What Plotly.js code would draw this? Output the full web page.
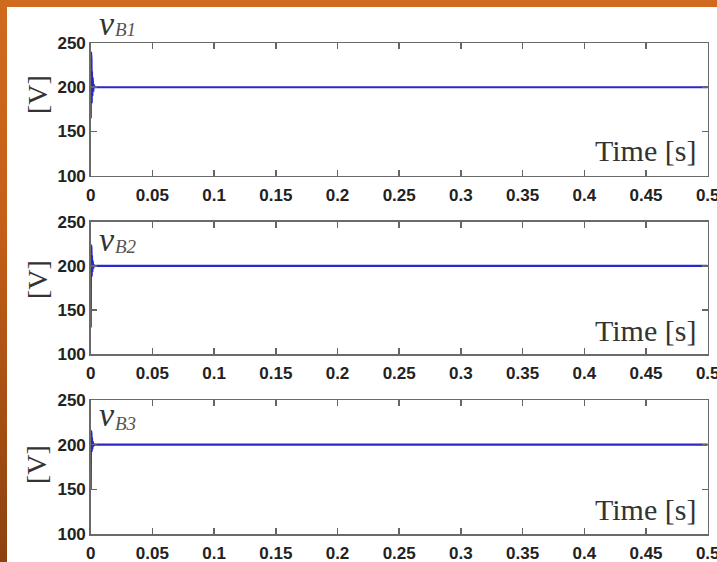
<!DOCTYPE html>
<html>
<head>
<meta charset="utf-8">
<script src="https://cdn.plot.ly/plotly-3.0.1.min.js"></script>
<style>
  html, body { margin: 0; padding: 0; }
  body {
    width: 717px; height: 562px; overflow: hidden; position: relative;
    background: linear-gradient(180deg, #cf6a1f 0%, #c45f18 40%, #a34e12 75%, #8c4210 100%);
  }
  #sheet { position: absolute; left: 7px; top: 7px; width: 710px; height: 555px; background: #ffffff; }
  #chart { position: absolute; left: 0; top: 0; width: 740px; height: 562px; }
</style>
</head>
<body>
<div id="sheet"></div>
<div id="chart"></div>
<script>
// Bus voltages of the three converters, start-up transient then steady 200 V
const time = [0, 0.0002, 0.0004, 0.0006, 0.0008, 0.0010, 0.0013, 0.0016, 0.0020, 0.0025, 0.0030, 0.5];
const vB1  = [165, 240, 168, 232, 182, 218, 190, 211, 195, 203, 200, 200];
const vB2  = [130, 224, 182, 220, 188, 212, 193, 206, 197, 201, 200, 200];
const vB3  = [150, 216, 190, 213, 192, 208, 195, 204, 198, 201, 200, 200];

const xTicks = [0, 0.05, 0.1, 0.15, 0.2, 0.25, 0.3, 0.35, 0.4, 0.45, 0.5];
const xTickText = ['0', '0.05', '0.1', '0.15', '0.2', '0.25', '0.3', '0.35', '0.4', '0.45', '0.5'];
const yTicks = [100, 150, 200, 250];
const seriesNames = ['B1', 'B2', 'B3'];

// the drawing is a little wider than the window so the last tick label is cut at the edge
const W = 740, H = 562;
const px = v => v / W;
const py = v => 1 - v / H;

// plot-area pixel boxes: [top, bottom]
const boxes = [[43, 175.7], [221.7, 354], [400, 534]];
const xLeft = 90.7, xRight = 707.7;

const lineColor = '#2828cc';
const tickFont = { family: 'Liberation Sans, Arial, sans-serif', size: 17, color: '#222222', weight: 'bold' };
const serif = 'Liberation Serif, Times New Roman, serif';

const series = [vB1, vB2, vB3];
const traces = series.map((v, i) => ({
  x: time, y: v,
  xaxis: i === 0 ? 'x' : 'x' + (i + 1),
  yaxis: i === 0 ? 'y' : 'y' + (i + 1),
  type: 'scatter', mode: 'lines',
  line: { color: lineColor, width: 2.2 },
  hoverinfo: 'skip', showlegend: false
}));

const layout = {
  width: W, height: H,
  margin: { l: 0, r: 0, t: 0, b: 0 },
  paper_bgcolor: 'rgba(0,0,0,0)',
  plot_bgcolor: '#ffffff',
  showlegend: false,
  annotations: []
};

boxes.forEach((b, i) => {
  const xa = i === 0 ? 'xaxis' : 'xaxis' + (i + 1);
  const ya = i === 0 ? 'yaxis' : 'yaxis' + (i + 1);
  const yname = i === 0 ? 'y' : 'y' + (i + 1);
  const xname = i === 0 ? 'x' : 'x' + (i + 1);
  layout[xa] = {
    domain: [px(xLeft), px(xRight)],
    anchor: yname,
    range: [0, 0.5],
    tickvals: xTicks, ticktext: xTickText,
    ticks: 'inside', ticklen: 6, tickwidth: 1.5, tickcolor: '#666666',
    showline: true, linecolor: '#6a6a6a', linewidth: 1.5, mirror: 'ticks',
    showgrid: false, zeroline: false,
    ticklabelstandoff: 3,
    tickfont: tickFont, automargin: false
  };
  layout[ya] = {
    domain: [py(b[1]), py(b[0])],
    anchor: xname,
    range: [100, 250],
    tickvals: yTicks,
    ticks: 'inside', ticklen: 6, tickwidth: 1.5, tickcolor: '#666666',
    showline: true, linecolor: '#6a6a6a', linewidth: 1.5, mirror: 'ticks',
    showgrid: false, zeroline: false,
    tickfont: tickFont, automargin: false
  };
});

// unit labels on the left
[95, 280, 465].forEach(c => {
  layout.annotations.push({
    xref: 'paper', yref: 'paper', x: px(37), y: py(c),
    text: '[V]', textangle: -90, showarrow: false,
    xanchor: 'center', yanchor: 'middle',
    font: { family: serif, size: 28, color: '#333333' }
  });
});

// time labels in the lower right corner of each panel
[151, 330, 509].forEach(c => {
  layout.annotations.push({
    xref: 'paper', yref: 'paper', x: px(698), y: py(c),
    text: 'Time [s]', showarrow: false,
    xanchor: 'right', yanchor: 'middle',
    font: { family: serif, size: 30, color: '#333333' }
  });
});

// signal names: italic v with a smaller italic subscript
const vCenters = [23, 239, 414];
const subCenters = [29, 246, 423];
seriesNames.forEach((n, i) => {
  layout.annotations.push({
    xref: 'paper', yref: 'paper', x: px(97), y: py(vCenters[i]),
    text: '<i>v</i>', showarrow: false, xanchor: 'left', yanchor: 'middle',
    font: { family: serif, size: 34, color: '#333333' }
  });
  layout.annotations.push({
    xref: 'paper', yref: 'paper', x: px(113), y: py(subCenters[i]),
    text: '<i>' + n + '</i>', showarrow: false, xanchor: 'left', yanchor: 'middle',
    font: { family: serif, size: 19, color: '#555555' }
  });
});

Plotly.newPlot('chart', traces, layout, { displayModeBar: false, staticPlot: true });
</script>
</body>
</html>
